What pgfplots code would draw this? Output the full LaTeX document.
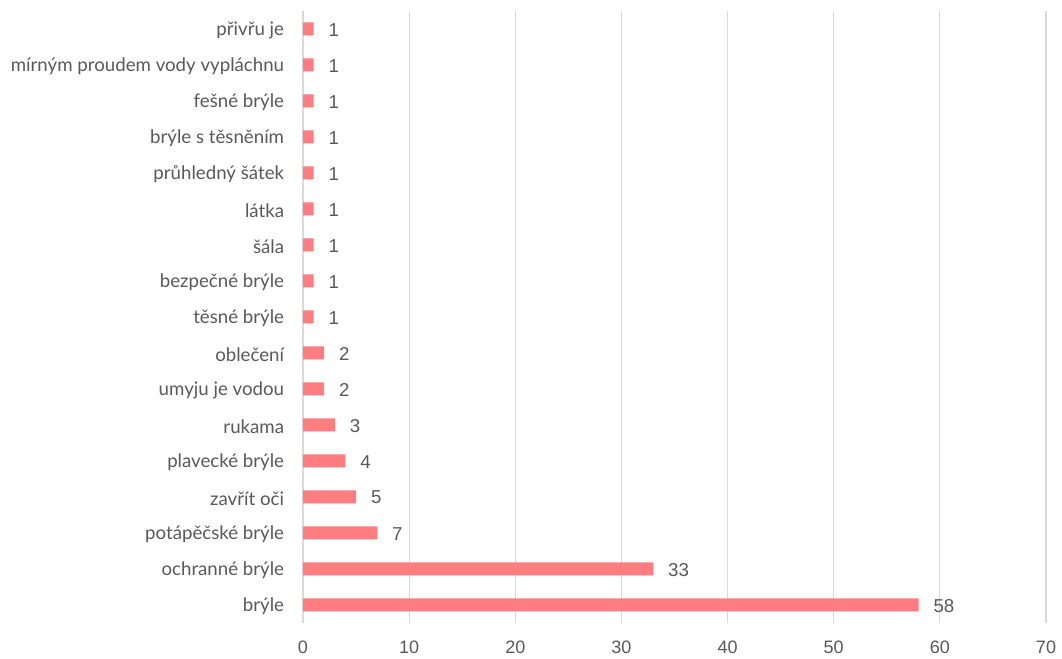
\documentclass[border=0pt]{standalone}
\usepackage{pgfplots}
\pgfplotsset{compat=1.18}
\usepackage{fontspec}
\setmainfont{Lato}
\newfontfamily\numfont{Liberation Sans}
\definecolor{barc}{HTML}{FF7C80}
\definecolor{txt}{HTML}{595959}
\definecolor{gridc}{HTML}{D9D9D9}
\begin{document}
\begin{tikzpicture}
\useasboundingbox (-227.25pt,-27pt) rectangle (569.25pt,467.25pt);
\begin{axis}[
  at={(0,0)}, anchor=south west,
  scale only axis,
  width=557.25pt, height=459pt,
  xbar, bar width=9.75pt,
  xmin=0, xmax=70, xtick={0,10,...,70},
  ymin=-0.5, ymax=16.5,
  ytick={0,...,16},
  yticklabels={brýle, ochranné brýle, potápěčské brýle, zavřít oči, plavecké brýle, rukama, umyju je vodou, oblečení, těsné brýle, bezpečné brýle, šála, látka, průhledný šátek, brýle s těsněním, fešné brýle, mírným proudem vody vypláchnu, přivřu je},
  axis x line*=bottom, axis y line*=left,
  x axis line style={draw=none},
  y axis line style={draw=gridc, line width=0.9pt, -},
  major tick length=0pt,
  xmajorgrids, grid style={gridc, line width=0.9pt},
  xticklabel style={font=\numfont\fontsize{13.5pt}{15pt}\selectfont, text=txt, anchor=center, inner sep=0pt, yshift=-18pt},
  yticklabel style={font=\fontsize{14pt}{16pt}\selectfont, text=txt, anchor=east, inner sep=0pt, xshift=-14pt, yshift=-1pt},
  nodes near coords,
  nodes near coords style={font=\numfont\fontsize{14pt}{16pt}\selectfont, text=txt, anchor=west, inner sep=0pt, xshift=11pt, yshift=-0.5pt},
  /pgf/number format/assume math mode=true,
  clip=false,
]
\addplot[fill=barc, draw=none] coordinates {
(58,0) (33,1) (7,2) (5,3) (4,4) (3,5) (2,6) (2,7) (1,8) (1,9) (1,10) (1,11) (1,12) (1,13) (1,14) (1,15) (1,16)
};
\end{axis}
\end{tikzpicture}
\end{document}
